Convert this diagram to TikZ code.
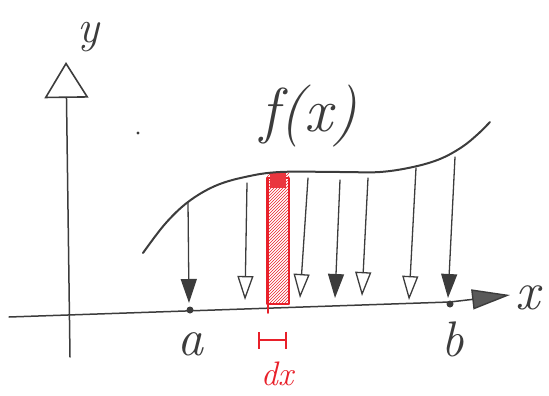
\documentclass[tikz,border=0pt]{standalone}
\usepackage{fontspec}
\usetikzlibrary{arrows.meta, patterns}
\definecolor{ink}{HTML}{3C3C3C}
\definecolor{strip}{HTML}{E8202A}
\begin{document}
\begin{tikzpicture}[x=1pt, y=-1pt, line cap=round, line join=round,
        axis/.style={draw=ink, line width=1.5pt},
        fallopen/.style={draw=ink, line width=1.3pt, -{Triangle[open, length=24pt, width=16pt, line width=1.3pt]}},
        fallfill/.style={draw=ink, line width=1.3pt, -{Triangle[length=24pt, width=16pt]}},
        lbl/.style={inner sep=0pt, text=ink}]
    \useasboundingbox (0,0) rectangle (549,396);
    % axes
    \coordinate (ybot) at (70,357);
    \coordinate (ytop) at (66,62);
    \coordinate (xleft) at (9,317);
    \coordinate (xmid) at (450,302);
    \coordinate (xright) at (510,295);
    \draw[axis, -{Triangle[open, length=36pt, width=44pt, line width=1.6pt]}] (ybot) -- (ytop);
    \draw[axis, -{Triangle[length=38pt, width=20pt, open, fill=ink!85, line width=1.4pt]}] (xleft) -- (xmid) -- (xright);
    \node[lbl, font=\fontsize{46}{46}\selectfont\itshape] (ylab) at (88,37) {y};
    \node[lbl, font=\fontsize{54}{54}\selectfont\itshape] (xlab) at (528,298) {x};
    % stray dot
    \fill[ink] (138,133) circle (1.6pt);
    % red strip dx
    \fill[pattern=north east lines, pattern color=strip] (267,172) rectangle (289,304);
    \draw[strip, line width=2pt] (267,178) rectangle (289,304);
    \fill[strip!90] (270,172) rectangle (286,188);
    \coordinate (stop) at (268,178);
    \coordinate (sbot) at (268,313);
    \draw[strip, line width=1.8pt] (stop) -- (sbot);
    % curve f(x)
    \draw[ink, line width=2pt] plot[smooth, tension=0.6] coordinates {(143,253) (165,224) (188,202) (215,186) (245,177) (280,172) (340,172) (380,172) (413,167) (440,159) (462,147) (478,134) (490,122)};
    \node[lbl, font=\fontsize{62}{62}\selectfont\itshape] (flab) at (309,116) {f(x)};
    % end points a and b
    \node[circle, fill=ink, inner sep=0pt, minimum size=7pt] (a) at (190,310) {};
    \node[circle, fill=ink, inner sep=0pt, minimum size=7pt] (b) at (450,304) {};
    \node[lbl, font=\fontsize{52}{52}\selectfont\itshape] (alab) at (190,344) {a};
    \node[lbl, font=\fontsize{50}{50}\selectfont\itshape] (blab) at (453,339) {b};
    % dx marker
    \coordinate (hl) at (258,340);
    \coordinate (hr) at (287,340);
    \draw[strip, line width=1.8pt, {Bar[width=17pt, line width=1.8pt]}-{Bar[width=17pt, line width=1.8pt]}] (hl) -- (hr);
    \node[lbl, text=strip, font=\fontsize{34}{34}\selectfont\itshape] (dxlab) at (277,374) {dx};
    % arrows from the curve down to the axis
    \coordinate (t1) at (188,202);  \coordinate (e1) at (189,303);
    \coordinate (t2) at (247,183);  \coordinate (e2) at (245,300);
    \coordinate (t3) at (308,178);  \coordinate (e3) at (300,298);
    \coordinate (t4) at (340,180);  \coordinate (e4) at (335,298);
    \coordinate (t5) at (368,178);  \coordinate (e5) at (362,296);
    \coordinate (t6) at (416,168);  \coordinate (e6) at (409,300);
    \coordinate (t7) at (455,157);  \coordinate (e7) at (448,298);
    \draw[fallfill] (t1) -- (e1);
    \draw[fallopen] (t2) -- (e2);
    \draw[fallopen] (t3) -- (e3);
    \draw[fallfill] (t4) -- (e4);
    \draw[fallopen] (t5) -- (e5);
    \draw[fallopen] (t6) -- (e6);
    \draw[fallfill] (t7) -- (e7);
\end{tikzpicture}
\end{document}
